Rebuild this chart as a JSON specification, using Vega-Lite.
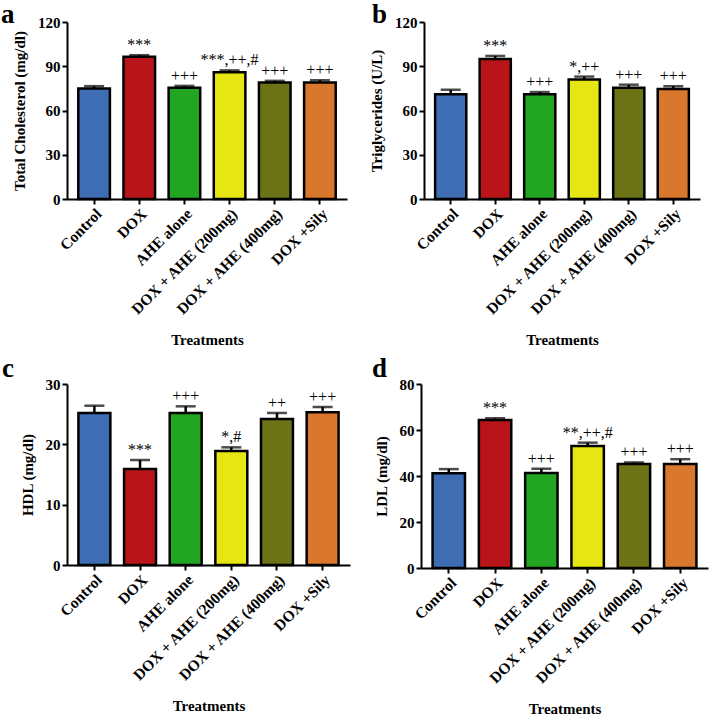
{
  "$schema": "https://vega.github.io/schema/vega-lite/v6.json",
  "padding": {"left": 1, "top": 1, "right": 2, "bottom": 0},
  "background": "white",
  "config": {
    "view": {"stroke": null},
    "font": "Liberation Serif",
    "axis": {
      "grid": false,
      "domainColor": "black", "domainWidth": 2,
      "tickColor": "black", "tickWidth": 2, "tickSize": 5,
      "labelFont": "Liberation Serif", "labelFontWeight": "bold", "labelFontSize": 15, "labelColor": "black",
      "titleFont": "Liberation Serif", "titleFontWeight": "bold", "titleFontSize": 15, "titleColor": "black"
    },
    "axisX": {"labelAngle": -45, "labelPadding": 2, "titlePadding": 15, "labelFontSize": 15.5},
    "axisY": {"labelPadding": 2, "titlePadding": 10},
    "title": {"font": "Liberation Serif", "fontWeight": "bold", "fontSize": 27, "color": "black", "anchor": "start", "frame": "group", "baseline": "alphabetic"},
    "text": {"font": "Liberation Serif"}
  },
  "datasets": {
    "lipids": [
      {"panel": "TC", "group": "Control", "mean": 75, "sd": 1.5, "sig": ""},
      {"panel": "TC", "group": "DOX", "mean": 96.5, "sd": 1.0, "sig": "***"},
      {"panel": "TC", "group": "AHE alone", "mean": 75.5, "sd": 1.2, "sig": "+++"},
      {"panel": "TC", "group": "DOX + AHE (200mg)", "mean": 86, "sd": 1.2, "sig": "***,++,#"},
      {"panel": "TC", "group": "DOX + AHE (400mg)", "mean": 79, "sd": 1.1, "sig": "+++"},
      {"panel": "TC", "group": "DOX +Sily", "mean": 79, "sd": 1.5, "sig": "+++"},
      {"panel": "TG", "group": "Control", "mean": 71, "sd": 3.0, "sig": ""},
      {"panel": "TG", "group": "DOX", "mean": 95, "sd": 2.0, "sig": "***"},
      {"panel": "TG", "group": "AHE alone", "mean": 71, "sd": 1.5, "sig": "+++"},
      {"panel": "TG", "group": "DOX + AHE (200mg)", "mean": 81, "sd": 2.0, "sig": "*,++"},
      {"panel": "TG", "group": "DOX + AHE (400mg)", "mean": 75.5, "sd": 2.0, "sig": "+++"},
      {"panel": "TG", "group": "DOX +Sily", "mean": 74.5, "sd": 2.0, "sig": "+++"},
      {"panel": "HDL", "group": "Control", "mean": 25.2, "sd": 1.2, "sig": ""},
      {"panel": "HDL", "group": "DOX", "mean": 15.9, "sd": 1.5, "sig": "***"},
      {"panel": "HDL", "group": "AHE alone", "mean": 25.2, "sd": 1.1, "sig": "+++"},
      {"panel": "HDL", "group": "DOX + AHE (200mg)", "mean": 18.9, "sd": 0.6, "sig": "*,#"},
      {"panel": "HDL", "group": "DOX + AHE (400mg)", "mean": 24.2, "sd": 1.0, "sig": "++"},
      {"panel": "HDL", "group": "DOX +Sily", "mean": 25.3, "sd": 0.9, "sig": "+++"},
      {"panel": "LDL", "group": "Control", "mean": 41.2, "sd": 1.8, "sig": ""},
      {"panel": "LDL", "group": "DOX", "mean": 64.3, "sd": 0.8, "sig": "***"},
      {"panel": "LDL", "group": "AHE alone", "mean": 41.3, "sd": 1.9, "sig": "+++"},
      {"panel": "LDL", "group": "DOX + AHE (200mg)", "mean": 53, "sd": 1.5, "sig": "**,++,#"},
      {"panel": "LDL", "group": "DOX + AHE (400mg)", "mean": 45.2, "sd": 0.7, "sig": "+++"},
      {"panel": "LDL", "group": "DOX +Sily", "mean": 45.2, "sd": 2.1, "sig": "+++"}
    ]
  },
  "vconcat": [
    {
      "spacing": 22,
      "hconcat": [
        {
          "width": 280, "height": 177,
          "title": {"text": "a", "dx": -66, "offset": -14},
          "data": {"name": "lipids"},
          "transform": [{"filter": "datum.panel == 'TC'"}, {"calculate": "datum.mean + datum.sd", "as": "hi"}],
          "encoding": {
            "x": {"field": "group", "type": "nominal", "sort": ["Control", "DOX", "AHE alone", "DOX + AHE (200mg)", "DOX + AHE (400mg)", "DOX +Sily"], "scale": {"paddingInner": 0.3, "paddingOuter": 0.25}, "axis": {"title": "Treatments"}}
          },
          "layer": [
            {"mark": {"type": "bar", "stroke": "black", "strokeWidth": 2.5},
             "encoding": {
               "y": {"field": "mean", "type": "quantitative", "scale": {"domain": [0, 120]}, "axis": {"values": [0, 30, 60, 90, 120], "title": "Total Cholesterol (mg/dl)"}},
               "color": {"field": "group", "type": "nominal", "legend": null, "scale": {"domain": ["Control", "DOX", "AHE alone", "DOX + AHE (200mg)", "DOX + AHE (400mg)", "DOX +Sily"], "range": ["#3f6db3", "#b8141a", "#22a622", "#e6e612", "#6b7316", "#d9782c"]}}}},
            {"mark": {"type": "rule", "color": "black", "strokeWidth": 2.5},
             "encoding": {"y": {"field": "mean", "type": "quantitative", "axis": {"title": "Total Cholesterol (mg/dl)"}}, "y2": {"field": "hi"}}},
            {"mark": {"type": "tick", "color": "black", "thickness": 2.5, "size": 20, "orient": "horizontal"},
             "encoding": {"y": {"field": "hi", "type": "quantitative", "axis": {"title": "Total Cholesterol (mg/dl)"}}}},
            {"mark": {"type": "text", "baseline": "alphabetic", "dy": -5, "fontSize": 16, "fill": "black", "color": "black"},
             "encoding": {"y": {"field": "hi", "type": "quantitative", "axis": {"title": "Total Cholesterol (mg/dl)"}}, "text": {"field": "sig"}}}
          ]
        },
        {
          "width": 276, "height": 177,
          "title": {"text": "b", "dx": -52, "offset": -14},
          "data": {"name": "lipids"},
          "transform": [{"filter": "datum.panel == 'TG'"}, {"calculate": "datum.mean + datum.sd", "as": "hi"}],
          "encoding": {
            "x": {"field": "group", "type": "nominal", "sort": ["Control", "DOX", "AHE alone", "DOX + AHE (200mg)", "DOX + AHE (400mg)", "DOX +Sily"], "scale": {"paddingInner": 0.3, "paddingOuter": 0.25}, "axis": {"title": "Treatments"}}
          },
          "layer": [
            {"mark": {"type": "bar", "stroke": "black", "strokeWidth": 2.5},
             "encoding": {
               "y": {"field": "mean", "type": "quantitative", "scale": {"domain": [0, 120]}, "axis": {"values": [0, 30, 60, 90, 120], "title": "Triglycerides (U/L)"}},
               "color": {"field": "group", "type": "nominal", "legend": null, "scale": {"domain": ["Control", "DOX", "AHE alone", "DOX + AHE (200mg)", "DOX + AHE (400mg)", "DOX +Sily"], "range": ["#3f6db3", "#b8141a", "#22a622", "#e6e612", "#6b7316", "#d9782c"]}}}},
            {"mark": {"type": "rule", "color": "black", "strokeWidth": 2.5},
             "encoding": {"y": {"field": "mean", "type": "quantitative", "axis": {"title": "Triglycerides (U/L)"}}, "y2": {"field": "hi"}}},
            {"mark": {"type": "tick", "color": "black", "thickness": 2.5, "size": 20, "orient": "horizontal"},
             "encoding": {"y": {"field": "hi", "type": "quantitative", "axis": {"title": "Triglycerides (U/L)"}}}},
            {"mark": {"type": "text", "baseline": "alphabetic", "dy": -5, "fontSize": 16, "fill": "black", "color": "black"},
             "encoding": {"y": {"field": "hi", "type": "quantitative", "axis": {"title": "Triglycerides (U/L)"}}, "text": {"field": "sig"}}}
          ]
        }
      ]
    },
    {
      "spacing": 22,
      "hconcat": [
        {
          "width": 283, "height": 181,
          "title": {"text": "c", "dx": -65, "offset": -6},
          "data": {"name": "lipids"},
          "transform": [{"filter": "datum.panel == 'HDL'"}, {"calculate": "datum.mean + datum.sd", "as": "hi"}],
          "encoding": {
            "x": {"field": "group", "type": "nominal", "sort": ["Control", "DOX", "AHE alone", "DOX + AHE (200mg)", "DOX + AHE (400mg)", "DOX +Sily"], "scale": {"paddingInner": 0.3, "paddingOuter": 0.25}, "axis": {"title": "Treatments"}}
          },
          "layer": [
            {"mark": {"type": "bar", "stroke": "black", "strokeWidth": 2.5},
             "encoding": {
               "y": {"field": "mean", "type": "quantitative", "scale": {"domain": [0, 30]}, "axis": {"values": [0, 10, 20, 30], "title": "HDL (mg/dl)"}},
               "color": {"field": "group", "type": "nominal", "legend": null, "scale": {"domain": ["Control", "DOX", "AHE alone", "DOX + AHE (200mg)", "DOX + AHE (400mg)", "DOX +Sily"], "range": ["#3f6db3", "#b8141a", "#22a622", "#e6e612", "#6b7316", "#d9782c"]}}}},
            {"mark": {"type": "rule", "color": "black", "strokeWidth": 2.5},
             "encoding": {"y": {"field": "mean", "type": "quantitative", "axis": {"title": "HDL (mg/dl)"}}, "y2": {"field": "hi"}}},
            {"mark": {"type": "tick", "color": "black", "thickness": 2.5, "size": 20, "orient": "horizontal"},
             "encoding": {"y": {"field": "hi", "type": "quantitative", "axis": {"title": "HDL (mg/dl)"}}}},
            {"mark": {"type": "text", "baseline": "alphabetic", "dy": -5, "fontSize": 16, "fill": "black", "color": "black"},
             "encoding": {"y": {"field": "hi", "type": "quantitative", "axis": {"title": "HDL (mg/dl)"}}, "text": {"field": "sig"}}}
          ]
        },
        {
          "width": 287, "height": 184,
          "title": {"text": "d", "dx": -49, "offset": -6},
          "data": {"name": "lipids"},
          "transform": [{"filter": "datum.panel == 'LDL'"}, {"calculate": "datum.mean + datum.sd", "as": "hi"}],
          "encoding": {
            "x": {"field": "group", "type": "nominal", "sort": ["Control", "DOX", "AHE alone", "DOX + AHE (200mg)", "DOX + AHE (400mg)", "DOX +Sily"], "scale": {"paddingInner": 0.3, "paddingOuter": 0.25}, "axis": {"title": "Treatments"}}
          },
          "layer": [
            {"mark": {"type": "bar", "stroke": "black", "strokeWidth": 2.5},
             "encoding": {
               "y": {"field": "mean", "type": "quantitative", "scale": {"domain": [0, 80]}, "axis": {"values": [0, 20, 40, 60, 80], "title": "LDL (mg/dl)"}},
               "color": {"field": "group", "type": "nominal", "legend": null, "scale": {"domain": ["Control", "DOX", "AHE alone", "DOX + AHE (200mg)", "DOX + AHE (400mg)", "DOX +Sily"], "range": ["#3f6db3", "#b8141a", "#22a622", "#e6e612", "#6b7316", "#d9782c"]}}}},
            {"mark": {"type": "rule", "color": "black", "strokeWidth": 2.5},
             "encoding": {"y": {"field": "mean", "type": "quantitative", "axis": {"title": "LDL (mg/dl)"}}, "y2": {"field": "hi"}}},
            {"mark": {"type": "tick", "color": "black", "thickness": 2.5, "size": 20, "orient": "horizontal"},
             "encoding": {"y": {"field": "hi", "type": "quantitative", "axis": {"title": "LDL (mg/dl)"}}}},
            {"mark": {"type": "text", "baseline": "alphabetic", "dy": -5, "fontSize": 16, "fill": "black", "color": "black"},
             "encoding": {"y": {"field": "hi", "type": "quantitative", "axis": {"title": "LDL (mg/dl)"}}, "text": {"field": "sig"}}}
          ]
        }
      ]
    }
  ],
  "spacing": 7
}
